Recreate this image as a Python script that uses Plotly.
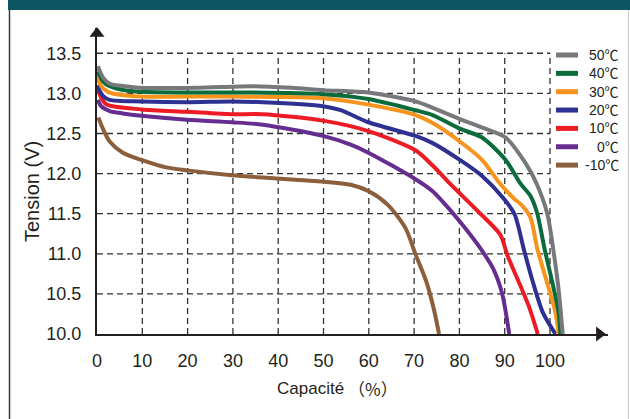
import plotly.graph_objects as go

# ---------------- data ----------------
series_names = ["-10℃", "0℃", "10℃", "20℃", "30℃", "40℃", "50℃"]
series_colors = ["#8b5e3c", "#662d91", "#ed1c24", "#2e3192", "#f7941d", "#0b6b3a", "#77787b"]

cap_m10 = [0.3, 1.3, 2.8, 5.7, 9.8, 15.0, 19.9, 29.7, 36.6, 49.9, 56.0, 60.0, 64.2, 68.1, 70.4, 72.6, 74.4, 75.5]
v_m10 = [12.70, 12.56, 12.40, 12.26, 12.17, 12.08, 12.04, 11.98, 11.95, 11.90, 11.86, 11.78, 11.61, 11.32, 10.98, 10.67, 10.30, 10.00]

cap_0 = [0.2, 0.9, 2.8, 5.7, 9.8, 19.9, 29.7, 36.6, 49.9, 56.0, 59.9, 70.3, 74.1, 76.3, 80.0, 84.1, 87.4, 89.4, 91.0]
v_0 = [12.92, 12.84, 12.78, 12.75, 12.72, 12.67, 12.64, 12.61, 12.47, 12.36, 12.26, 11.93, 11.78, 11.65, 11.41, 11.11, 10.82, 10.51, 10.00]

cap_10 = [0.2, 0.9, 2.1, 9.8, 19.9, 29.7, 36.6, 49.9, 59.9, 70.3, 74.1, 77.8, 84.1, 89.0, 90.6, 93.4, 95.3, 97.3]
v_10 = [13.05, 12.95, 12.86, 12.80, 12.77, 12.74, 12.74, 12.66, 12.53, 12.29, 12.10, 11.88, 11.53, 11.24, 10.98, 10.61, 10.35, 10.00]

cap_20 = [0.0, 1.3, 2.8, 9.8, 19.9, 29.7, 36.6, 49.9, 53.8, 59.9, 70.3, 74.1, 80.1, 85.0, 89.9, 92.2, 94.2, 96.1, 98.4, 101.2]
v_20 = [13.10, 12.97, 12.92, 12.90, 12.89, 12.90, 12.89, 12.84, 12.79, 12.64, 12.47, 12.38, 12.17, 11.97, 11.68, 11.49, 11.06, 10.67, 10.27, 10.00]

cap_30 = [0.0, 0.7, 2.8, 9.8, 19.9, 29.7, 49.9, 59.9, 70.3, 74.1, 80.1, 85.0, 88.9, 92.2, 93.7, 95.7, 97.2, 99.2, 101.2, 101.9]
v_30 = [13.29, 13.11, 13.01, 12.96, 12.96, 12.96, 12.94, 12.86, 12.73, 12.63, 12.40, 12.17, 11.88, 11.68, 11.61, 11.45, 11.06, 10.67, 10.27, 10.00]

cap_40 = [0.2, 1.3, 2.8, 6.1, 9.8, 19.9, 29.7, 34.5, 49.9, 59.9, 70.3, 74.1, 80.1, 85.0, 90.2, 93.4, 95.7, 97.2, 98.8, 100.4, 101.9, 102.3]
v_40 = [13.27, 13.15, 13.09, 13.04, 13.02, 13.01, 13.01, 13.01, 12.99, 12.93, 12.79, 12.73, 12.56, 12.45, 12.17, 11.88, 11.72, 11.50, 11.06, 10.67, 10.27, 10.00]

cap_50 = [0.2, 1.3, 2.8, 6.1, 9.8, 22.0, 34.5, 43.0, 49.9, 59.9, 70.3, 74.1, 80.1, 85.7, 90.2, 94.6, 97.0, 99.4, 100.7, 101.9, 102.8]
v_50 = [13.34, 13.20, 13.12, 13.09, 13.07, 13.07, 13.09, 13.07, 13.04, 13.01, 12.90, 12.82, 12.68, 12.56, 12.45, 12.13, 11.88, 11.50, 11.06, 10.55, 10.00]

series_x = [cap_m10, cap_0, cap_10, cap_20, cap_30, cap_40, cap_50]
series_y = [v_m10, v_0, v_10, v_20, v_30, v_40, v_50]

x_ticks = [0, 10, 20, 30, 40, 50, 60, 70, 80, 90, 100]
y_ticks = [10.0, 10.5, 11.0, 11.5, 12.0, 12.5, 13.0, 13.5]
y_tick_text = ["10.0", "10.5", "11.0", "11.5", "12.0", "12.5", "13.0", "13.5"]

x_title_main = "Capacité"
x_title_unit = "（%）"
y_title = "Tension (V)"

# ---------------- styling ----------------
X_RANGE = [0, 112.8]
Y_RANGE = [10.0, 13.815]
INK = "#231f20"
FONT = "Liberation Sans, Arial, Noto Sans CJK SC, sans-serif"
CJK = "Noto Sans CJK SC"
W, H = 630, 419
ML, MR, MT, MB = 97, 22, 28, 85
PW, PH = W - ML - MR, H - MT - MB


def px_to_paper_x(px):
    return (px - ML) / PW


def px_to_paper_y(py):
    return (H - MB - py) / PH


fig = go.Figure()

for name, color, xs, ys in zip(series_names, series_colors, series_x, series_y):
    fig.add_trace(go.Scatter(
        x=xs, y=ys, mode="lines", name=name, showlegend=False,
        line=dict(color=color, width=4, shape="spline", smoothing=0.75),
        hoverinfo="skip",
    ))

# axis arrow heads
fig.add_trace(go.Scatter(x=[X_RANGE[0]], y=[Y_RANGE[1] - 0.07], mode="markers",
                         marker=dict(symbol="triangle-up", size=13, color=INK),
                         cliponaxis=False, showlegend=False, hoverinfo="skip"))
fig.add_trace(go.Scatter(x=[X_RANGE[1] - 1.9], y=[Y_RANGE[0]], mode="markers",
                         marker=dict(symbol="triangle-right", size=13, color=INK),
                         cliponaxis=False, showlegend=False, hoverinfo="skip"))

shapes = []
# dashed grid box
grid_line = dict(color="#333333", width=1.3, dash="6px,4px")
for yv in y_ticks[1:]:
    shapes.append(dict(type="line", xref="x", yref="y", x0=x_ticks[0], x1=x_ticks[-1],
                       y0=yv, y1=yv, line=grid_line, layer="below"))
for xv in x_ticks[1:]:
    shapes.append(dict(type="line", xref="x", yref="y", x0=xv, x1=xv,
                       y0=y_ticks[0], y1=y_ticks[-1], line=grid_line, layer="below"))

# header band and frame
shapes.append(dict(type="rect", xref="paper", yref="paper",
                   x0=px_to_paper_x(8), x1=px_to_paper_x(632),
                   y0=px_to_paper_y(10), y1=px_to_paper_y(-2),
                   fillcolor="#0b5660", line=dict(width=0), layer="above"))
shapes.append(dict(type="line", xref="paper", yref="paper",
                   x0=px_to_paper_x(9.5), x1=px_to_paper_x(9.5),
                   y0=px_to_paper_y(10), y1=px_to_paper_y(421),
                   line=dict(color="#3a3a3a", width=1.5)))
shapes.append(dict(type="line", xref="paper", yref="paper",
                   x0=px_to_paper_x(628.5), x1=px_to_paper_x(628.5),
                   y0=px_to_paper_y(10), y1=px_to_paper_y(421),
                   line=dict(color="#c8c8c8", width=1)))

annotations = []
# custom legend
for i, (name, color) in enumerate(zip(series_names[::-1], series_colors[::-1])):
    py = 55 + i * 18.35
    shapes.append(dict(type="line", xref="paper", yref="paper",
                       x0=px_to_paper_x(556), x1=px_to_paper_x(578),
                       y0=px_to_paper_y(py), y1=px_to_paper_y(py),
                       line=dict(color=color, width=5)))
    annotations.append(dict(xref="paper", yref="paper", x=px_to_paper_x(621), y=px_to_paper_y(py),
                            text=name, showarrow=False, xanchor="right", yanchor="middle",
                            font=dict(family=FONT, size=14, color=INK)))

annotations.append(dict(xref="paper", yref="paper", x=px_to_paper_x(32), y=px_to_paper_y(192),
                        text=y_title, textangle=-90, showarrow=False,
                        xanchor="center", yanchor="middle",
                        font=dict(family=FONT, size=20, color=INK)))
annotations.append(dict(xref="paper", yref="paper", x=px_to_paper_x(346), y=px_to_paper_y(388),
                        text=x_title_main, showarrow=False,
                        xanchor="right", yanchor="middle",
                        font=dict(family=FONT, size=17, color=INK)))
annotations.append(dict(xref="paper", yref="paper", x=px_to_paper_x(346), y=px_to_paper_y(388),
                        text=x_title_unit, showarrow=False,
                        xanchor="left", yanchor="middle",
                        font=dict(family=CJK, size=17, color=INK)))

fig.update_layout(
    width=W, height=H,
    margin=dict(l=ML, r=MR, t=MT, b=MB, pad=0),
    paper_bgcolor="white", plot_bgcolor="white",
    shapes=shapes, annotations=annotations,
    showlegend=False,
    font=dict(family=FONT, color=INK),
    xaxis=dict(range=X_RANGE, tickvals=x_ticks, ticktext=[str(v) for v in x_ticks],
               showgrid=False, zeroline=False, showline=True, linecolor=INK, linewidth=2,
               ticks="", ticklabelstandoff=9, tickfont=dict(family=FONT, size=18, color=INK),
               automargin=False, fixedrange=True),
    yaxis=dict(range=Y_RANGE, tickvals=y_ticks, ticktext=y_tick_text,
               showgrid=False, zeroline=False, showline=True, linecolor=INK, linewidth=2,
               ticks="", ticklabelstandoff=10, tickfont=dict(family=FONT, size=18, color=INK),
               automargin=False, fixedrange=True),
)

fig.write_html("out.html", config={"displayModeBar": False, "responsive": False},
               post_script="document.body.style.margin='0';document.body.style.padding='0';")
